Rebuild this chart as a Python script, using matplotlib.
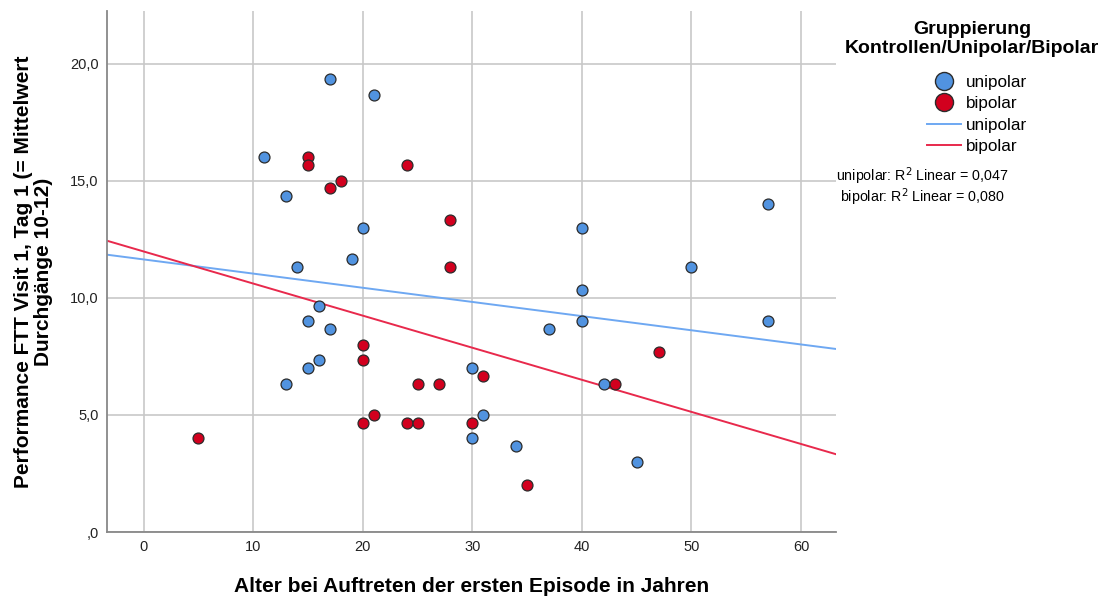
import matplotlib
matplotlib.use("Agg")
import matplotlib.pyplot as plt
from matplotlib.lines import Line2D
from matplotlib.ticker import FuncFormatter

plt.rcParams['font.family'] = ['Liberation Sans', 'DejaVu Sans']

# Data
uni_x = [17, 21, 11, 13, 14, 19, 20, 16, 15, 17, 16, 15, 13, 30, 31, 30, 34, 37, 40, 40, 40, 42, 45, 50, 57, 57]
uni_y = [19.33, 18.67, 16.0, 14.33, 11.33, 11.67, 13.0, 9.67, 9.0, 8.67, 7.33, 7.0, 6.33, 7.0, 5.0, 4.0, 3.67, 8.67, 13.0, 10.33, 9.0, 6.33, 3.0, 11.33, 14.0, 9.0]
bip_x = [5, 15, 15, 17, 18, 24, 28, 28, 20, 20, 20, 21, 24, 25, 25, 27, 30, 31, 35, 43, 47]
bip_y = [4.0, 16.0, 15.67, 14.67, 15.0, 15.67, 13.33, 11.33, 8.0, 7.33, 4.67, 5.0, 4.67, 4.67, 6.33, 6.33, 4.67, 6.67, 2.0, 6.33, 7.67]

# Fit lines (intercept, slope)
uni_fit = [11.64, -0.0605]
bip_fit = [11.98, -0.137]

x_ticks = [0, 10, 20, 30, 40, 50, 60]
y_ticks = [0, 5, 10, 15, 20]
x_range = [-3.35, 63.2]
y_range = [0, 22.25]

c_uni = '#5193e0'
c_bip = '#d2001e'
c_uni_line = '#6ea8f2'
c_bip_line = '#e8294c'

fig = plt.figure(figsize=(11.10, 6.01), dpi=100)
ax = fig.add_axes([107/1110, 1 - 532/601, (836-107)/1110, (532-11)/601])

ax.set_xlim(*x_range)
ax.set_ylim(*y_range)
ax.set_xticks(x_ticks)
ax.set_yticks(y_ticks)
ax.yaxis.set_major_formatter(FuncFormatter(lambda v, p: (',0' if v == 0 else f'{v:.1f}'.replace('.', ','))))
ax.tick_params(length=0, labelsize=10.5, colors='#222222', pad=6)
ax.grid(True, color='#c8c8c8', linewidth=1.2)
ax.set_axisbelow(True)
for s in ['top', 'right']:
    ax.spines[s].set_visible(False)
for s in ['left', 'bottom']:
    ax.spines[s].set_color('#888888')
    ax.spines[s].set_linewidth(1.3)

xs = x_range
ax.plot(xs, [uni_fit[0] + uni_fit[1]*x for x in xs], color=c_uni_line, lw=1.4, zorder=2)
ax.plot(xs, [bip_fit[0] + bip_fit[1]*x for x in xs], color=c_bip_line, lw=1.4, zorder=2)

ax.scatter(uni_x, uni_y, s=62, c=c_uni, edgecolors='#2b2b2b', linewidths=0.9, zorder=3)
ax.scatter(bip_x, bip_y, s=62, c=c_bip, edgecolors='#2b2b2b', linewidths=0.9, zorder=3)

ax.set_xlabel('Alter bei Auftreten der ersten Episode in Jahren', fontsize=15, fontweight='bold', labelpad=16)
ax.set_ylabel('Performance FTT Visit 1, Tag 1 (= Mittelwert\nDurchgänge 10-12)', fontsize=15, fontweight='bold', labelpad=12, linespacing=1.08)

# Legend
fig.text(972/1110, 1 - 39/601, 'Gruppierung\nKontrollen/Unipolar/Bipolar', ha='center', va='center',
         fontsize=14, fontweight='bold', linespacing=1.08)
handles = [
    Line2D([], [], marker='o', ls='none', markersize=13, markerfacecolor=c_uni, markeredgecolor='#2b2b2b', markeredgewidth=1),
    Line2D([], [], marker='o', ls='none', markersize=13, markerfacecolor=c_bip, markeredgecolor='#2b2b2b', markeredgewidth=1),
    Line2D([], [], color=c_uni_line, lw=1.4),
    Line2D([], [], color=c_bip_line, lw=1.4),
]
labels = ['unipolar', 'bipolar', 'unipolar', 'bipolar']
fig.legend(handles, labels, loc='upper left', bbox_to_anchor=(918/1110, 1 - 66/601), frameon=False,
           fontsize=12.3, handlelength=2.0, handletextpad=0.3, labelspacing=0.38, borderpad=0)

fig.text(922/1110, 1 - 176/601, 'unipolar: R$^2$ Linear = 0,047', ha='center', va='center', fontsize=10.3)
fig.text(922/1110, 1 - 197/601, 'bipolar: R$^2$ Linear = 0,080', ha='center', va='center', fontsize=10.3)

fig.savefig('out.png', dpi=100, facecolor='white')
